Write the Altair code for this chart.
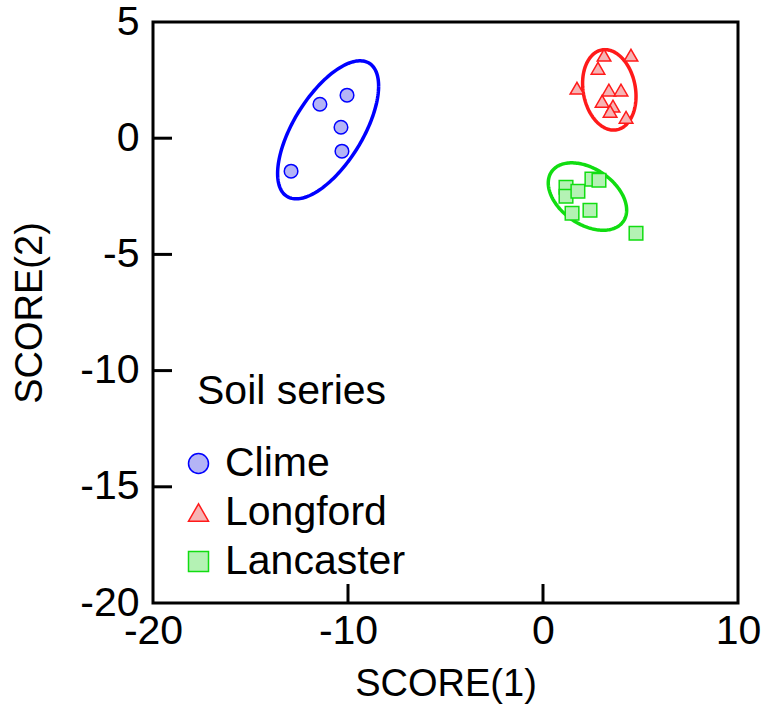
import altair as alt
import pandas as pd
import numpy as np

# ---- data ----
series_names = ["Clime", "Longford", "Lancaster"]

clime_x = [-10.05, -11.44, -10.36, -10.31, -12.92]
clime_y = [1.85, 1.46, 0.47, -0.56, -1.42]

longford_x = [3.13, 4.51, 2.82, 1.74, 3.38, 4.00, 3.03, 3.59, 3.44, 4.26]
longford_y = [3.57, 3.57, 3.01, 2.15, 2.07, 2.07, 1.59, 1.38, 1.16, 0.90]

lancaster_x = [1.18, 1.18, 1.79, 2.51, 2.87, 1.49, 2.41, 4.77]
lancaster_y = [-2.11, -2.50, -2.28, -1.76, -1.81, -3.23, -3.10, -4.09]

# confidence ellipses: centre, half extent in x and y, and cross term
ell_cx = [-11.02, 3.40, 2.28]
ell_cy = [0.36, 2.08, -2.51]
ell_hw = [2.59, 1.37, 2.01]
ell_hh = [2.97, 1.73, 1.45]
ell_sxy = [4.87, -0.38, -1.17]

x_domain = [-20, 10]
y_domain = [-20, 5]
x_ticks = [-20, -10, 0, 10]
y_ticks = [-20, -15, -10, -5, 0, 5]
x_inner_ticks = [-10, 0]
y_inner_ticks = [-15, -10, -5, 0]

stroke_colors = ["#0000ff", "#ff1a1a", "#11dd11"]
fill_colors = ["#b4b4f6", "#f6b4b4", "#b4f2b4"]
shapes = ["circle", "triangle-up", "square"]

W, H = 585, 581
TICK = 19  # inward tick length in pixels
FONT = "Liberation Sans"
LFS = 41
TFS = 38

# ---- build tables ----
rows = []
for name, xs, ys in zip(series_names, [clime_x, longford_x, lancaster_x],
                        [clime_y, longford_y, lancaster_y]):
    for x, y in zip(xs, ys):
        rows.append({"x": x, "y": y, "series": name})
pts = pd.DataFrame(rows)

t = np.linspace(0, 2 * np.pi, 181)
ell_frames = []
for name, cx, cy, hw, hh, sxy in zip(series_names, ell_cx, ell_cy, ell_hw, ell_hh, ell_sxy):
    l21 = sxy / hw
    l22 = np.sqrt(hh ** 2 - l21 ** 2)
    ell_frames.append(pd.DataFrame({
        "x": cx + hw * np.cos(t),
        "y": cy + l21 * np.cos(t) + l22 * np.sin(t),
        "order": np.arange(len(t)),
        "series": name,
    }))

# inward tick segments as short two-point lines (length converted from pixels)
tick_len_x = TICK * (x_domain[1] - x_domain[0]) / W
tick_len_y = TICK * (y_domain[1] - y_domain[0]) / H
tick_frames = []
for v in x_inner_ticks:
    tick_frames.append(pd.DataFrame({
        "x": [float(v), float(v)],
        "y": [float(y_domain[0]), y_domain[0] + tick_len_y],
        "order": [0, 1],
        "series": "tick",
    }))
for w in y_inner_ticks:
    tick_frames.append(pd.DataFrame({
        "x": [float(x_domain[0]), x_domain[0] + tick_len_x],
        "y": [float(w), float(w)],
        "order": [0, 1],
        "series": "tick",
    }))

xscale = alt.Scale(domain=x_domain, nice=False, zero=False)
yscale = alt.Scale(domain=y_domain, nice=False, zero=False)

xaxis = alt.Axis(values=x_ticks, title="SCORE(1)", domain=False, ticks=False, grid=False,
                 labelFontSize=LFS, titleFontSize=TFS, labelFont=FONT, titleFont=FONT,
                 labelPadding=8, titlePadding=14, titleFontWeight="normal",
                 labelColor="black", titleColor="black", labelFlush=False,
                 labelExpr="'' + datum.value")
yaxis = alt.Axis(values=y_ticks, title="SCORE(2)", domain=False, ticks=False, grid=False,
                 labelFontSize=LFS, titleFontSize=TFS, labelFont=FONT, titleFont=FONT,
                 labelPadding=14, titlePadding=30, titleFontWeight="normal",
                 labelColor="black", titleColor="black", labelFlush=False,
                 labelExpr="'' + datum.value")

layers = []
for i, df in enumerate(ell_frames):
    layers.append(
        alt.Chart(df).mark_line(strokeWidth=3.5, color=stroke_colors[i]).encode(
            x=alt.X("x:Q", scale=xscale, axis=xaxis),
            y=alt.Y("y:Q", scale=yscale, axis=yaxis),
            order="order:Q",
        )
    )

for df in tick_frames:
    layers.append(
        alt.Chart(df).mark_line(strokeWidth=3, color="black").encode(
            x=alt.X("x:Q", scale=xscale, axis=xaxis),
            y=alt.Y("y:Q", scale=yscale, axis=yaxis),
            order="order:Q",
        )
    )

leg = alt.Legend(title="Soil series", orient="none", legendX=44, legendY=350,
                 titleFontSize=LFS, labelFontSize=LFS, titleFont=FONT, labelFont=FONT,
                 titleFontWeight="normal", titleColor="black", labelColor="black",
                 symbolSize=400, symbolStrokeWidth=1.5, rowPadding=7, titlePadding=30,
                 labelOffset=6, padding=0, symbolOffset=-19, labelLimit=400,
                 titleLimit=400)

points = alt.Chart(pts).mark_point(filled=True, opacity=1, size=185, strokeWidth=1.5).encode(
    x=alt.X("x:Q", scale=xscale, axis=xaxis),
    y=alt.Y("y:Q", scale=yscale, axis=yaxis),
    fill=alt.Fill("series:N", scale=alt.Scale(domain=series_names, range=fill_colors),
                  legend=leg),
    stroke=alt.Stroke("series:N", scale=alt.Scale(domain=series_names, range=stroke_colors),
                      legend=leg),
    shape=alt.Shape("series:N", scale=alt.Scale(domain=series_names, range=shapes),
                    legend=leg),
)

chart = alt.layer(*layers, points).properties(
    width=W, height=H,
    background="white",
    autosize=alt.AutoSizeParams(type="none"),
    padding={"left": 153, "top": 22, "right": 28, "bottom": 116},
).configure_view(
    stroke="black", strokeWidth=3
)

chart.save("out.html", embed_options={"renderer": "svg", "actions": False})
